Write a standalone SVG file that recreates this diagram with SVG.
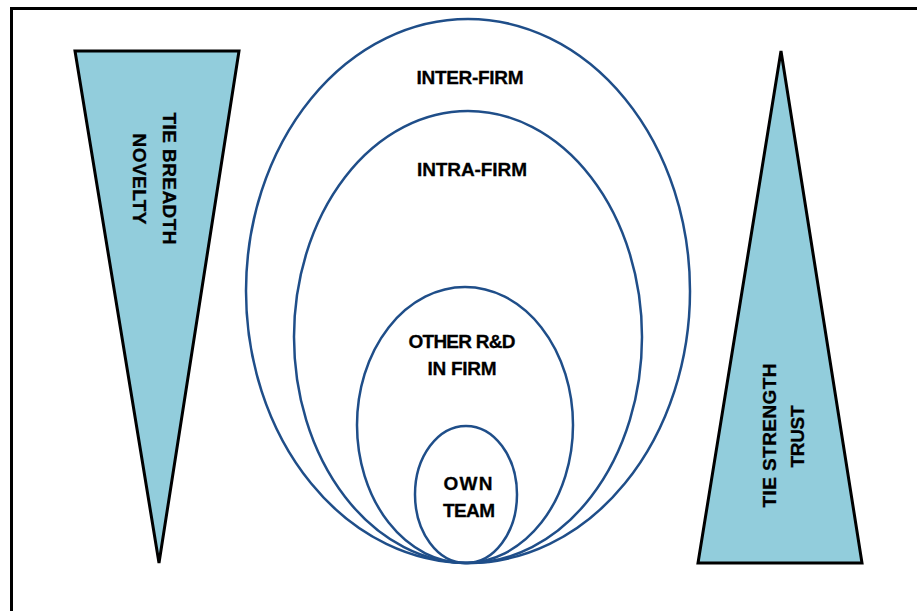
<svg xmlns="http://www.w3.org/2000/svg" width="917" height="611" viewBox="0 0 917 611">
  <style>
    .frame { fill: none; stroke: #000; stroke-width: 3; }
    .wedge { fill: #92CDDC; stroke: #000; stroke-width: 3; stroke-linejoin: miter; }
    .ring { fill: none; stroke: #1F4E89; stroke-width: 2.5; }
    .label { font-family: "Liberation Sans", Arial, sans-serif; font-weight: bold; font-size: 19px; fill: #000; text-anchor: middle; stroke: #000; stroke-width: 0.3; }
  </style>
  <rect width="917" height="611" fill="#fff"/>
  <rect class="frame" x="11.5" y="8.5" width="930" height="630"/>

  <!-- Tie breadth wedge (narrowing downward) -->
  <g id="tie-breadth">
    <polygon class="wedge" points="75,51 239,51 159,563"/>
    <text class="label" transform="translate(163,178.5) rotate(90)" x="0" y="0" textLength="132">TIE BREADTH</text>
    <text class="label" transform="translate(133,179) rotate(90)" x="0" y="0" textLength="91">NOVELTY</text>
  </g>

  <!-- Tie strength wedge (widening downward) -->
  <g id="tie-strength">
    <polygon class="wedge" points="781,51 862,563 698,563"/>
    <text class="label" transform="translate(776,435.5) rotate(-90)" x="0" y="0" textLength="144">TIE STRENGTH</text>
    <text class="label" transform="translate(804,436.5) rotate(-90)" x="0" y="0" textLength="62">TRUST</text>
  </g>

  <!-- Nested network circles, all touching at the bottom -->
  <g id="inter-firm">
    <ellipse class="ring" cx="468" cy="291" rx="222" ry="272"/>
    <text class="label" x="470" y="84" textLength="107">INTER-FIRM</text>
  </g>
  <g id="intra-firm">
    <ellipse class="ring" cx="468" cy="337" rx="174" ry="226"/>
    <text class="label" x="472" y="176" textLength="110">INTRA-FIRM</text>
  </g>
  <g id="other-rd">
    <ellipse class="ring" cx="465" cy="425" rx="108" ry="138"/>
    <text class="label" x="462" y="348" textLength="107">OTHER R&amp;D</text>
    <text class="label" x="462" y="375" textLength="69">IN FIRM</text>
  </g>
  <g id="own-team">
    <ellipse class="ring" cx="466" cy="494.5" rx="51" ry="68.5"/>
    <text class="label" x="468" y="490" textLength="49">OWN</text>
    <text class="label" x="469" y="516.5" textLength="52">TEAM</text>
  </g>
</svg>
